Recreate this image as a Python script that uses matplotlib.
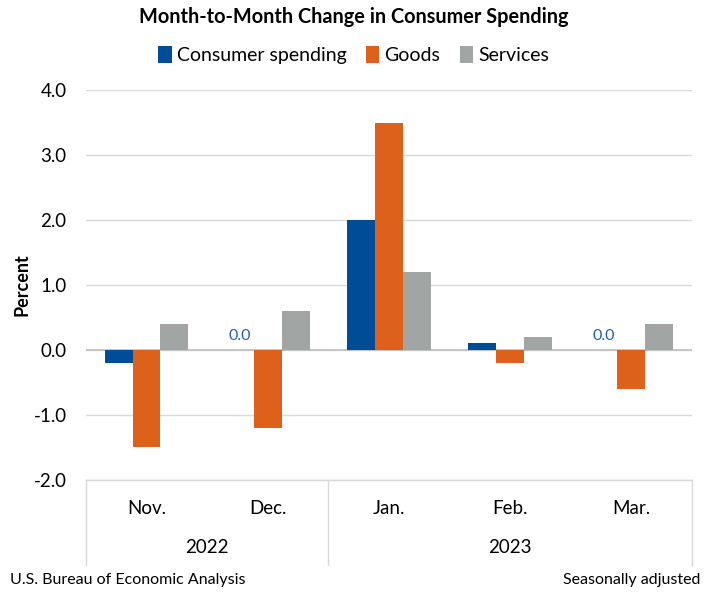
import numpy as np
import matplotlib
matplotlib.use("Agg")
import matplotlib.pyplot as plt

plt.rcParams['font.family'] = ['Lato', 'DejaVu Sans']

months = ["Nov.", "Dec.", "Jan.", "Feb.", "Mar."]
years = ["2022", "2023"]
year_spans = [(0, 1), (2, 4)]
consumer = [-0.2, 0.0, 2.0, 0.1, 0.0]
goods = [-1.5, -1.2, 3.5, -0.2, -0.6]
services = [0.4, 0.6, 1.2, 0.2, 0.4]

C_BLUE = '#004C97'
C_ORANGE = '#DD601B'
C_GRAY = '#A1A5A4'
C_GRID = '#D9D9D9'

fig = plt.figure(figsize=(7.07, 5.95), dpi=100)
ax = fig.add_axes([0.1216, 0.1933, 0.857, 0.6554])

x = np.arange(len(months))
w = 0.23
ax.bar(x - w, consumer, w, color=C_BLUE, label='Consumer spending', zorder=3)
ax.bar(x, goods, w, color=C_ORANGE, label='Goods', zorder=3)
ax.bar(x + w, services, w, color=C_GRAY, label='Services', zorder=3)

# zero-value labels
for xi, v in zip(x, consumer):
    if v == 0:
        ax.text(xi - w, 0.1, "0.0", ha='center', va='bottom', color='#1F5FAD', fontsize=11.5)

ax.set_xlim(-0.5, 4.5)
ax.set_ylim(-2.0, 4.0)
ax.set_yticks(np.arange(-2, 5, 1))
ax.set_yticklabels([f"{v:.1f}" for v in np.arange(-2, 5, 1)], fontsize=13.5)
ax.tick_params(axis='y', length=0, pad=14)
ax.set_xticks([])
ax.yaxis.grid(True, color=C_GRID, linewidth=1, zorder=0)
ax.axhline(0, color='#BFBFBF', linewidth=1.2, zorder=2)
for s in ax.spines.values():
    s.set_visible(False)
ax.set_ylabel("Percent", fontsize=13, fontweight='bold', labelpad=2)

# category axis box
tr = ax.get_xaxis_transform()
ax.plot([-0.5, 4.5], [0, 0], color=C_GRID, lw=1, transform=tr, clip_on=False)
for xs in [-0.5, 1.5, 4.5]:
    ax.plot([xs, xs], [0, -0.218], color=C_GRID, lw=1, transform=tr, clip_on=False)
for xi, m in zip(x, months):
    ax.text(xi, -0.072, m, ha='center', va='center', fontsize=13.5, transform=tr)
for (a, b), yr in zip(year_spans, years):
    ax.text((a + b) / 2, -0.174, yr, ha='center', va='center', fontsize=13.5, transform=tr)

fig.text(0.5, 0.971, "Month-to-Month Change in Consumer Spending", ha='center', va='center',
         fontsize=14.3, fontweight='bold')
fig.legend(loc='center', bbox_to_anchor=(0.5, 0.907), ncol=3, frameon=False, fontsize=14,
           handlelength=0.7, handleheight=0.9, handletextpad=0.25, columnspacing=1.0)
fig.text(0.014, 0.025, "U.S. Bureau of Economic Analysis", ha='left', va='center', fontsize=11.5)
fig.text(0.99, 0.025, "Seasonally adjusted", ha='right', va='center', fontsize=11.5)

fig.savefig("out.png", dpi=100)
